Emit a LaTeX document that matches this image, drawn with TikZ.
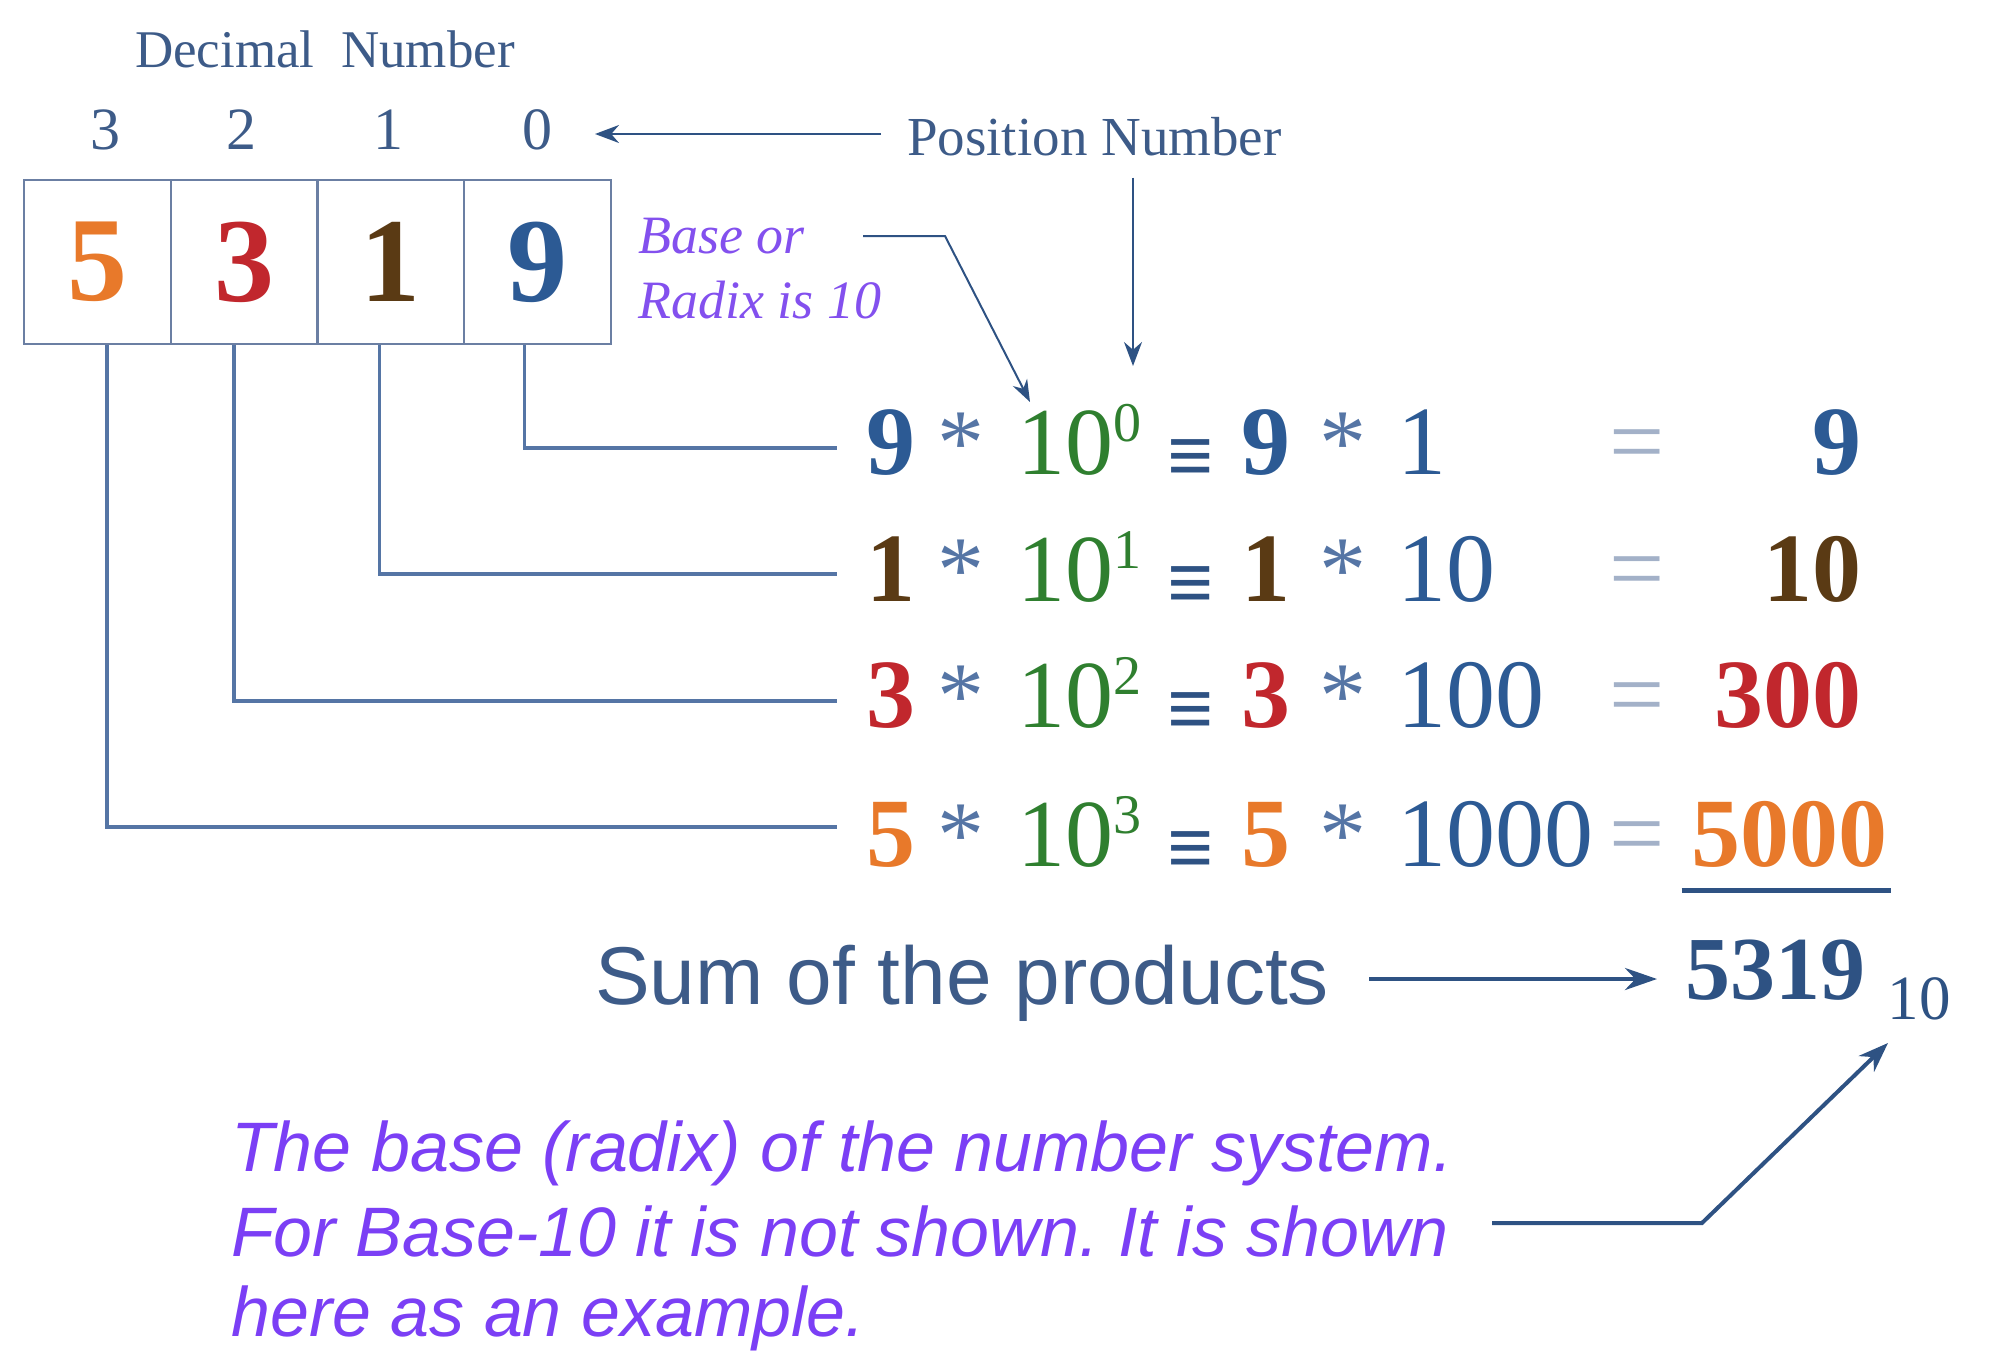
\documentclass[tikz,border=0pt]{standalone}
\usepackage{fontspec}
\setmainfont{Liberation Serif}
\newfontfamily\sansf{Liberation Sans}
\usetikzlibrary{arrows.meta}
\definecolor{navy}{HTML}{2E5283}
\definecolor{txtblue}{HTML}{3D5B88}
\definecolor{boxc}{HTML}{6B7FA3}
\definecolor{corange}{HTML}{E8792A}
\definecolor{cred}{HTML}{C1272D}
\definecolor{cbrown}{HTML}{5A3A14}
\definecolor{cblue}{HTML}{2C5A94}
\definecolor{cgreen}{HTML}{2F7F2F}
\definecolor{eqgray}{HTML}{A3B1C8}
\definecolor{cpurple}{HTML}{7B3FF5}
\definecolor{cpurple2}{HTML}{8350EE}
\definecolor{astc}{HTML}{5575A5}
\newcommand\fsz[1]{\fontsize{#1}{#1}\selectfont}
\newcommand\eqrow[8]{%
  \node[dig, text=#4, anchor=base] (#1a) at (891,#2) {#3};
  \node[ast, anchor=base] (#1b) at (961,#2) {*};
  \node[ten, anchor=base west] (#1c) at (1017,#2) {10};
  \node[expo, anchor=base west] (#1d) at (1113,#2-33) {#5};
  \node[eqv, anchor=base] (#1e) at (1191,#2+9) {≡};
  \node[dig, text=#4, anchor=base] (#1f) at (1266,#2) {#3};
  \node[ast, anchor=base] (#1g) at (1343,#2) {*};
  \node[pow, anchor=base west] (#1h) at (1397,#2) {#6};
  \node[eqs, anchor=base] (#1i) at (1637,#2) {=};
  \node[res, text=#4, anchor=base east] (#1j) at (#8,#2) {#7};
}
\begin{document}
\begin{tikzpicture}[x=1pt,y=-1pt,
  cell/.style={draw=boxc, line width=2, minimum width=147, minimum height=164, inner sep=0, font=\fsz{120}\bfseries},
  toplab/.style={inner sep=0, text=txtblue, font=\fsz{53}},
  poslab/.style={inner sep=0, text=txtblue, font=\fsz{60}},
  baselab/.style={inner sep=0, text=cpurple2, font=\fsz{54}\itshape},
  dig/.style={inner sep=0, font=\fsz{98}\bfseries},
  ast/.style={inner sep=0, text=astc, font=\fsz{94}},
  ten/.style={inner sep=0, text=cgreen, font=\fsz{96}},
  expo/.style={inner sep=0, text=cgreen, font=\fsz{56}},
  eqv/.style={inner sep=0, text=navy, font=\fsz{82}\bfseries},
  pow/.style={inner sep=0, text=cblue, font=\fsz{98}},
  eqs/.style={inner sep=0, text=eqgray, font=\fsz{98}},
  res/.style={inner sep=0, font=\fsz{98}\bfseries},
  conn/.style={draw=astc, line width=3.5},
  thinarr/.style={draw=navy, line width=2, -{Stealth[length=24, width=18]}},
  bigarr/.style={draw=navy, line width=4.5, -{Stealth[length=32, width=22]}}
]
\useasboundingbox (0,0) rectangle (2014,1368);
% header
\node[toplab, anchor=base] (dec) at (325,67) {Decimal\ \ Number};
\node[poslab, anchor=base] (p3) at (105,149) {3};
\node[poslab, anchor=base] (p2) at (241,149) {2};
\node[poslab, anchor=base] (p1) at (388,149) {1};
\node[poslab, anchor=base] (p0) at (537,149) {0};
% box
\node[cell, text=corange] (c3) at (97,262) {5};
\node[cell, text=cred] (c2) at (244,262) {3};
\node[cell, text=cbrown] (c1) at (390.5,262) {1};
\node[cell, text=cblue] (c0) at (537.5,262) {9};
% position number
\node[inner sep=0, text=txtblue, font=\fsz{55}, anchor=base west] (posn) at (907,155) {Position Number};
\coordinate (pa) at (595,134);
\coordinate (pb) at (1133,366);
\draw[thinarr] (posn.west |- pa) ++(-26,0) -- (pa);
\draw[thinarr] (posn.south -| pb) ++(0,22) -- (pb);
% base or radix
\node[baselab, anchor=base west] (base1) at (638,253) {Base or};
\node[baselab, anchor=base west] (base2) at (638,318) {Radix is 10};
\coordinate (ba) at (863,236);
\coordinate (bb) at (945,236);
\coordinate (bc) at (1030,402);
\draw[draw=navy, line width=2, -{Stealth[length=22, width=16]}] (ba) -- (bb) -- (bc);
% rows
\eqrow{ra}{474}{9}{cblue}{0}{1}{9}{1862}
\eqrow{rb}{601}{1}{cbrown}{1}{10}{10}{1862}
\eqrow{rc}{727}{3}{cred}{2}{100}{300}{1862}
\eqrow{rd}{866}{5}{corange}{3}{1000}{5000}{1888}
% connectors
\coordinate (la) at (837,448);
\coordinate (lb) at (837,574);
\coordinate (lc) at (837,701);
\coordinate (ld) at (837,827);
\draw[conn] ([xshift=-13]c0.south) |- (la);
\draw[conn] ([xshift=-11]c1.south) |- (lb);
\draw[conn] ([xshift=-10]c2.south) |- (lc);
\draw[conn] ([xshift=10]c3.south) |- (ld);
% underline
\draw[draw=navy, line width=5] ([xshift=-10,yshift=-23]rdj.south west) -- ([xshift=3,yshift=-23]rdj.south east);
% sum
\node[inner sep=0, text=txtblue, font=\sansf\fsz{82}, anchor=base west] (sum) at (595,1004) {Sum of the products};
\node[inner sep=0, text=navy, font=\fsz{90}\bfseries, anchor=base west] (tot) at (1685,999) {5319};
\node[inner sep=0, text=navy, font=\fsz{63}, anchor=base west] (sub) at ([xshift=22,yshift=-20]tot.base east) {10};
\coordinate (sa) at (1369,979);
\coordinate (sb) at (1657,979);
\draw[bigarr] (sa) -- (sb);
% bottom text
\node[inner sep=0, text=cpurple, font=\sansf\itshape\fsz{70}\frenchspacing, anchor=base west] (t1) at (231,1171) {The base (radix) of the number system.};
\node[inner sep=0, text=cpurple, font=\sansf\itshape\fsz{70}\frenchspacing, anchor=base west] (t2) at (231,1256) {For Base-10 it is not shown. It is shown};
\node[inner sep=0, text=cpurple, font=\sansf\itshape\fsz{70}\frenchspacing, anchor=base west] (t3) at (231,1336) {here as an example.};
\coordinate (ea) at (1492,1223);
\coordinate (eb) at (1702,1223);
\coordinate (ec) at (1888,1043);
\draw[draw=navy, line width=4, -{Stealth[length=30, width=22]}] (ea) -- (eb) -- (ec);
\end{tikzpicture}
\end{document}
